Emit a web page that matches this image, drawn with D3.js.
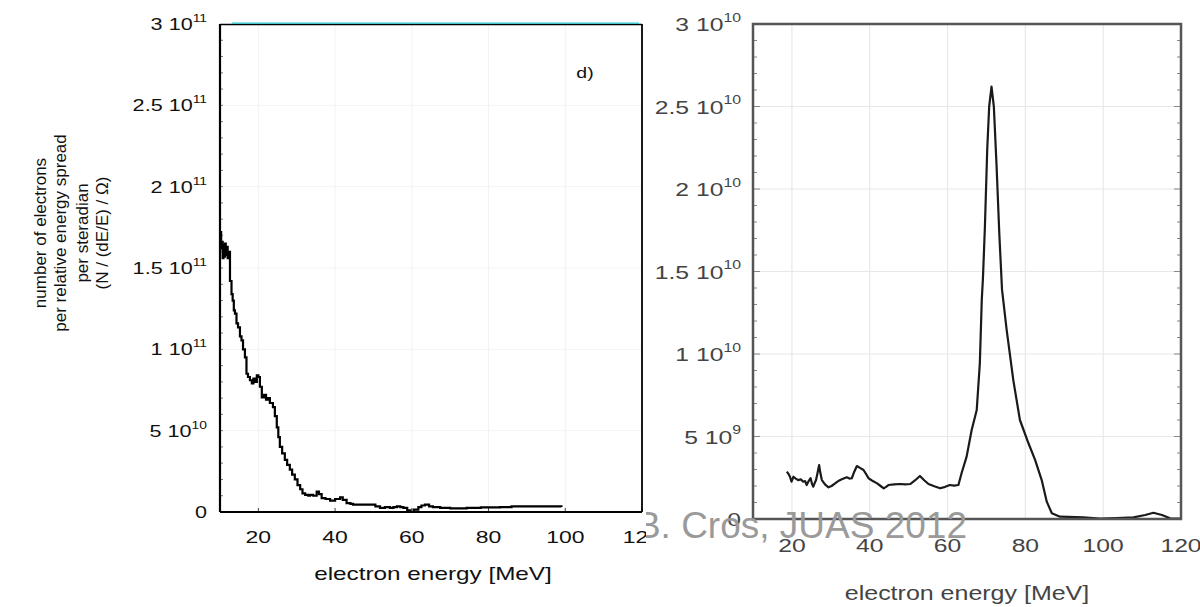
<!DOCTYPE html>
<html><head><meta charset="utf-8">
<script src="https://cdn.jsdelivr.net/npm/d3@7"></script>
<style>html,body{margin:0;padding:0;background:#fff;}svg{display:block;}</style>
</head><body>
<script>
// ---------- DATA ----------
const xTicks = [20, 40, 60, 80, 100, 120];
const leftYTicks = [0, 5e10, 1e11, 1.5e11, 2e11, 2.5e11, 3e11];
const leftYLabels = ["0", "5 10^10", "1 10^11", "1.5 10^11", "2 10^11", "2.5 10^11", "3 10^11"];
const rightYTicks = [0, 5e9, 1e10, 1.5e10, 2e10, 2.5e10, 3e10];
const rightYLabels = ["0", "5 10^9", "1 10^10", "1.5 10^10", "2 10^10", "2.5 10^10", "3 10^10"];

const leftEnergy = [10.0,10.3,10.5,10.7,10.9,11.1,11.3,11.5,11.8,12.0,12.3,12.6,13.0,13.3,13.6,13.9,14.3,14.7,15.2,15.6,16.0,16.5,16.9,17.3,17.8,18.3,18.7,19.1,19.6,20.0,20.4,20.9,21.5,22.0,22.5,23.0,23.8,24.3,24.8,25.2,25.6,26.2,26.9,27.5,28.2,28.8,29.5,30.2,30.9,31.5,32.2,33.0,33.5,34.3,35.2,35.8,36.5,37.5,38.7,40.0,41.3,42.0,43.0,44.0,44.7,47.0,49.1,50.5,51.7,53.0,54.3,55.2,56.1,57.0,57.8,58.8,59.6,60.5,61.7,62.5,63.4,64.5,65.5,67.4,70.0,74.3,78.0,83.0,86.0,90.0,95.1,99.0];
const leftCount = [1.72e11,1.62e11,1.66e11,1.56e11,1.64e11,1.57e11,1.65e11,1.58e11,1.63e11,1.56e11,1.60e11,1.42e11,1.34e11,1.30e11,1.24e11,1.22e11,1.16e11,1.135e11,1.08e11,1.055e11,1.00e11,0.95e11,0.85e11,0.83e11,0.81e11,0.79e11,0.82e11,0.80e11,0.84e11,0.83e11,0.77e11,0.705e11,0.72e11,0.69e11,0.70e11,0.67e11,0.645e11,0.59e11,0.52e11,0.46e11,0.40e11,0.36e11,0.32e11,0.29e11,0.26e11,0.23e11,0.20e11,0.165e11,0.14e11,0.115e11,0.105e11,0.10e11,0.105e11,0.10e11,0.125e11,0.11e11,0.085e11,0.08e11,0.07e11,0.08e11,0.09e11,0.075e11,0.055e11,0.05e11,0.045e11,0.045e11,0.045e11,0.035e11,0.025e11,0.03e11,0.025e11,0.03e11,0.035e11,0.03e11,0.025e11,0.01e11,0.0,0.015e11,0.03e11,0.04e11,0.045e11,0.035e11,0.03e11,0.025e11,0.022e11,0.025e11,0.028e11,0.03e11,0.034e11,0.035e11,0.035e11,0.03e11];

const rightEnergy = [18.7,19.2,19.5,19.9,20.4,21.0,21.6,22.3,22.9,23.4,23.8,24.3,24.8,25.2,25.5,25.9,26.2,26.6,27.0,27.3,27.7,28.5,29.4,30.2,31.1,31.8,32.4,33.3,34.1,34.8,35.4,36.0,36.7,37.5,38.4,39.0,39.7,40.8,41.9,42.8,43.6,44.2,44.8,46.3,47.8,49.1,50.4,51.7,52.9,54.0,55.1,56.6,58.1,59.4,60.6,61.7,62.8,63.6,64.9,66.2,67.5,68.3,68.8,69.1,69.6,70.2,70.7,71.3,71.9,72.6,73.3,74.0,75.2,76.9,78.6,80.8,82.5,84.2,85.5,86.8,88.9,94.9,99.2,103.5,107.8,110.8,112.9,115.1,117.2,119.8];
const rightCount = [2.87e9,2.70e9,2.56e9,2.26e9,2.56e9,2.45e9,2.36e9,2.40e9,2.26e9,2.30e9,2.06e9,2.30e9,2.47e9,2.10e9,1.96e9,2.20e9,2.36e9,2.80e9,3.27e9,2.80e9,2.36e9,2.10e9,1.92e9,2.00e9,2.16e9,2.28e9,2.36e9,2.45e9,2.53e9,2.45e9,2.47e9,2.85e9,3.21e9,3.10e9,2.97e9,2.75e9,2.47e9,2.30e9,2.16e9,2.00e9,1.86e9,1.95e9,2.06e9,2.10e9,2.12e9,2.10e9,2.12e9,2.35e9,2.61e9,2.35e9,2.12e9,1.98e9,1.86e9,1.95e9,2.06e9,2.02e9,2.06e9,2.77e9,3.78e9,5.39e9,6.6e9,9.44e9,13.3e9,14.6e9,17.7e9,22.4e9,25.0e9,26.2e9,25.0e9,21.4e9,17.3e9,13.9e9,11.45e9,8.42e9,6.0e9,4.59e9,3.58e9,2.36e9,1.05e9,0.35e9,0.14e9,0.10e9,0.02e9,0.06e9,0.10e9,0.24e9,0.38e9,0.24e9,0.04e9,0.02e9];

// ---------- DRAW ----------
const svg = d3.select("body").append("svg").attr("width", 1200).attr("height", 607);
const FONT = "'Liberation Sans', Arial, Helvetica, sans-serif";

function label(g, x, y, str, o) {
  const t = g.append("g").attr("transform", `translate(${x},${y}) scale(${o.sx},1)`)
    .append("text").attr("text-anchor", o.anchor).attr("font-family", FONT)
    .attr("font-size", o.size).attr("fill", o.fill);
  const parts = str.split("^");
  t.append("tspan").text(parts[0]);
  if (parts.length > 1) {
    t.append("tspan").attr("dy", -o.size * 0.5).attr("font-size", o.size * 0.64).text(parts[1]);
  }
  return t;
}

// ===== Right chart =====
const R = svg.append("g");
const xR = d3.scaleLinear().domain([10, 120]).range([753, 1181]);
const yR = d3.scaleLinear().domain([0, 3e10]).range([519, 24]);
R.append("g").selectAll("line.v").data(xTicks.filter(d => d < 120)).join("line")
  .attr("x1", d => xR(d)).attr("x2", d => xR(d)).attr("y1", yR(0)).attr("y2", yR(3e10))
  .attr("stroke", "#e8e8e8").attr("stroke-width", 1.2);
R.append("g").selectAll("line.h").data(rightYTicks.filter(d => d > 0 && d < 3e10)).join("line")
  .attr("x1", xR(10)).attr("x2", xR(120)).attr("y1", d => yR(d)).attr("y2", d => yR(d))
  .attr("stroke", "#e8e8e8").attr("stroke-width", 1.2);
const minorR = d3.range(1e9, 3e10, 1e9);
[[xR(10), 1], [xR(120), -1]].forEach(([x0, s]) => {
  R.append("g").selectAll("line").data(minorR).join("line")
    .attr("x1", x0).attr("x2", d => x0 + s * ((Math.round(d / 1e9) % 5 === 0) ? 7 : 4))
    .attr("y1", d => yR(d)).attr("y2", d => yR(d)).attr("stroke", "#888").attr("stroke-width", 1);
});
R.append("path").datum(rightEnergy.map((e, i) => [e, rightCount[i]]))
  .attr("d", d3.line().x(d => xR(d[0])).y(d => yR(d[1])))
  .attr("fill", "none").attr("stroke", "#1a1a1a").attr("stroke-width", 2.2).attr("stroke-linejoin", "round");
R.append("rect").attr("x", xR(10)).attr("y", yR(3e10)).attr("width", xR(120) - xR(10)).attr("height", yR(0) - yR(3e10))
  .attr("fill", "none").attr("stroke", "#555").attr("stroke-width", 2.5);
rightYTicks.forEach((v, i) => label(R, 741, yR(v) + 7, rightYLabels[i], {sx: 1.3, anchor: "end", size: 19, fill: "#444"}));
xTicks.forEach(v => label(R, xR(v), 552, String(v), {sx: 1.3, anchor: "middle", size: 19, fill: "#444"}));
label(R, 967, 600, "electron energy [MeV]", {sx: 1.25, anchor: "middle", size: 20, fill: "#444"});

// ===== Watermark =====
svg.append("text").attr("x", 967).attr("y", 538).attr("text-anchor", "end")
  .attr("font-family", FONT).attr("font-size", 37).attr("fill", "#9a9a9a").text("B. Cros, JUAS 2012");

// ===== Left chart =====
svg.append("defs").append("clipPath").attr("id", "clipL").append("rect")
  .attr("x", 0).attr("y", 0).attr("width", 646).attr("height", 607);
const L = svg.append("g").attr("clip-path", "url(#clipL)");
L.append("rect").attr("x", 0).attr("y", 0).attr("width", 646).attr("height", 607).attr("fill", "#fff");
const xL = d3.scaleLinear().domain([10, 120]).range([220, 642]);
const yL = d3.scaleLinear().domain([0, 3e11]).range([512, 24]);
L.append("g").selectAll("line").data(xTicks.filter(d => d < 120)).join("line")
  .attr("x1", d => xL(d)).attr("x2", d => xL(d)).attr("y1", yL(0)).attr("y2", yL(3e11))
  .attr("stroke", "#f3f3f3").attr("stroke-width", 1);
L.append("g").selectAll("line").data(leftYTicks.filter(d => d > 0 && d < 3e11)).join("line")
  .attr("x1", xL(10)).attr("x2", xL(120)).attr("y1", d => yL(d)).attr("y2", d => yL(d))
  .attr("stroke", "#f3f3f3").attr("stroke-width", 1);
L.append("g").selectAll("line").data(d3.range(1e10, 3e11, 1e10)).join("line")
  .attr("x1", xL(10)).attr("x2", xL(10) + 3).attr("y1", d => yL(d)).attr("y2", d => yL(d))
  .attr("stroke", "#777").attr("stroke-width", 1);
L.append("g").selectAll("line").data(xTicks).join("line")
  .attr("x1", d => xL(d)).attr("x2", d => xL(d)).attr("y1", yL(0)).attr("y2", yL(0) - 4)
  .attr("stroke", "#444").attr("stroke-width", 1);
L.append("path").datum(leftEnergy.map((e, i) => [e, leftCount[i]]))
  .attr("d", d3.line().x(d => xL(d[0])).y(d => yL(d[1])).curve(d3.curveStepAfter))
  .attr("fill", "none").attr("stroke", "#000").attr("stroke-width", 2.2);
// frame
L.append("line").attr("x1", xL(10)).attr("x2", xL(10)).attr("y1", yL(3e11)).attr("y2", yL(0)).attr("stroke", "#000").attr("stroke-width", 2.2);
L.append("line").attr("x1", xL(10)).attr("x2", xL(120)).attr("y1", yL(0)).attr("y2", yL(0)).attr("stroke", "#000").attr("stroke-width", 2.2);
L.append("line").attr("x1", xL(120)).attr("x2", xL(120)).attr("y1", yL(3e11)).attr("y2", yL(0)).attr("stroke", "#000").attr("stroke-width", 1.8);
L.append("line").attr("x1", xL(10)).attr("x2", xL(120)).attr("y1", yL(3e11) + 0.5).attr("y2", yL(3e11) + 0.5).attr("stroke", "#000").attr("stroke-width", 1.5);
L.append("line").attr("x1", xL(10) + 12).attr("x2", xL(120) - 3).attr("y1", yL(3e11) - 0.8).attr("y2", yL(3e11) - 0.8).attr("stroke", "#22c8cc").attr("stroke-width", 1.3);
leftYTicks.forEach((v, i) => label(L, 207, yL(v) + 6, leftYLabels[i], {sx: 1.35, anchor: "end", size: 16, fill: "#111"}));
xTicks.forEach(v => label(L, xL(v), 543, String(v), {sx: 1.35, anchor: "middle", size: 17, fill: "#111"}));
label(L, 433, 580, "electron energy [MeV]", {sx: 1.35, anchor: "middle", size: 18, fill: "#111"});
label(L, 585, 78, "d)", {sx: 1.3, anchor: "middle", size: 15, fill: "#111"});
const yTitle = ["number of electrons", "per relative energy spread", "per steradian", "(N / (dE/E) / \u03A9)"];
const yTitleX = [46, 66, 88, 108];
yTitle.forEach((s, i) => {
  L.append("text").attr("transform", `translate(${yTitleX[i]},233) rotate(-90)`)
    .attr("text-anchor", "middle").attr("font-family", FONT).attr("font-size", 17).attr("fill", "#111").text(s);
});
</script>
</body></html>
